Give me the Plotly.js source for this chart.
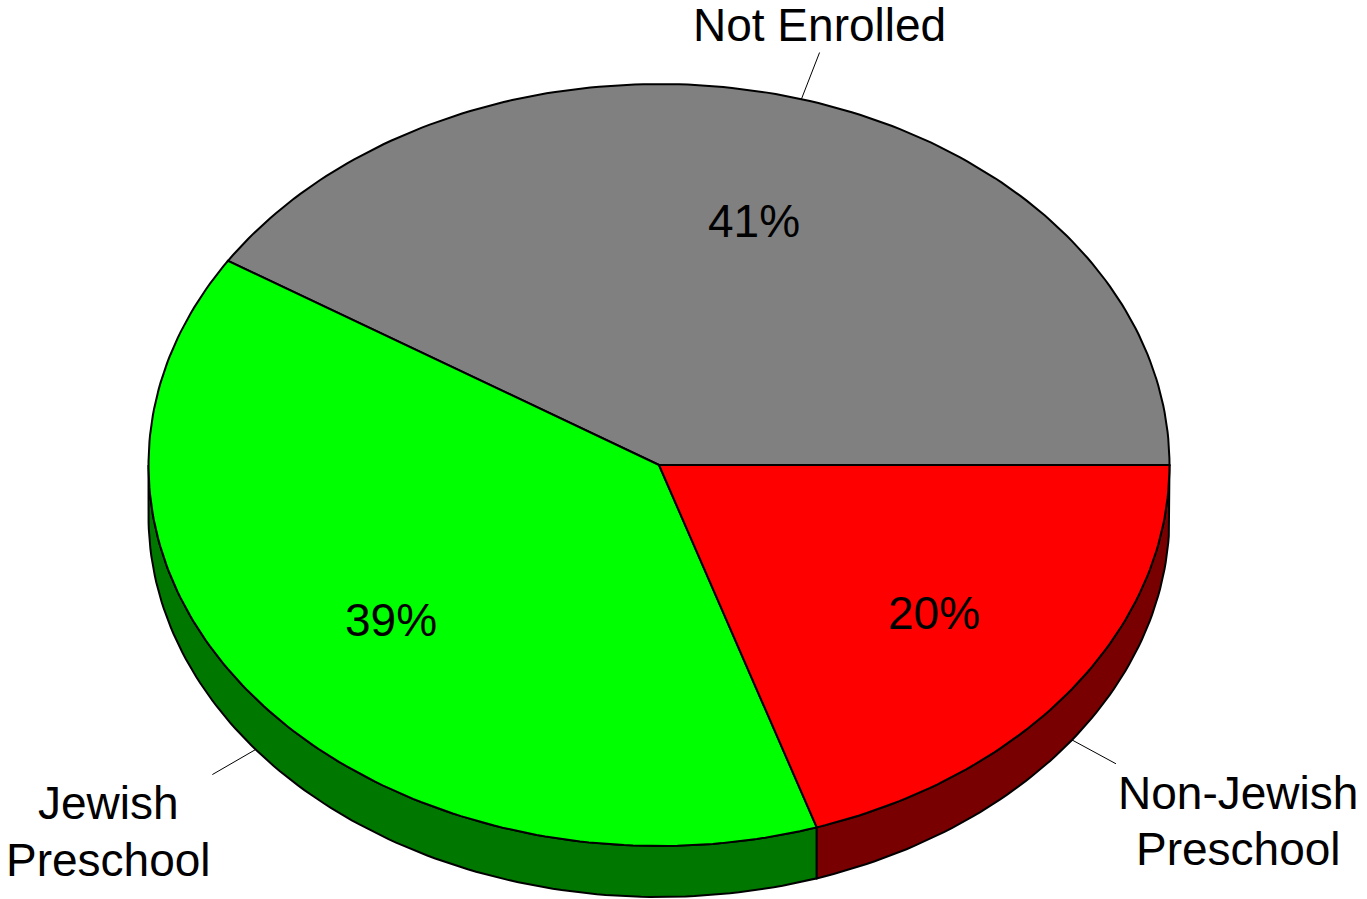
<!DOCTYPE html>
<html>
<head>
<meta charset="utf-8">
<script src="https://cdn.plot.ly/plotly-3.0.1.min.js"></script>
<style>html,body{margin:0;padding:0;background:#fff;}#chart{width:1367px;height:899px;}</style>
</head>
<body>
<div id="chart"></div>
<script>
// ---- data ----
const labels = ['Not Enrolled', 'Jewish<br>Preschool', 'Non-Jewish<br>Preschool'];
const values = [41, 39, 20];
const topColors = ['#808080', '#00ff00', '#ff0000'];
const sideColors = ['#404040', '#007800', '#780000'];

// ---- geometry (layout params) ----
const W = 1367, H = 899;
const cx = 659, cy = 465, rx = 510.5, ry = 381, depth = 51;
const FONTNAME = 'Liberation Sans';
const FONT = 'Liberation Sans, Arial, sans-serif';
const FS = 46;
const LINE_H = 56.5;
const DESC = 0.212 * FS + 1;     // box bottom below baseline
const CAP = 0.716 * FS;
const LEAD = 50;
const PCT_R = 0.665;

const canvas = document.createElement('canvas');
const ctx = canvas.getContext('2d');
ctx.font = FS + 'px "' + FONTNAME + '", Arial, sans-serif';
function textW(s) { return ctx.measureText(s).width; }

function pt(deg, dy) {
  const t = deg * Math.PI / 180;
  return [cx + rx * Math.cos(t), cy - ry * Math.sin(t) + (dy || 0)];
}
function arc(a0, a1, dy) {
  const n = Math.max(2, Math.ceil(Math.abs(a1 - a0)));
  const xs = [], ys = [];
  for (let i = 0; i <= n; i++) {
    const p = pt(a0 + (a1 - a0) * i / n, dy);
    xs.push(p[0]); ys.push(p[1]);
  }
  return [xs, ys];
}

const total = values.reduce((a, b) => a + b, 0);
const slices = [];
let acc = 0;
values.forEach((v, i) => {
  const a0 = acc / total * 360;
  acc += v;
  const a1 = acc / total * 360;
  slices.push({ a0, a1, mid: (a0 + a1) / 2, i });
});

const traces = [];
// side walls (front half only)
slices.forEach(s => {
  const lo = Math.max(s.a0, 180), hi = Math.min(s.a1, 360);
  if (hi <= lo) return;
  const top = arc(lo, hi, 0);
  const bot = arc(hi, lo, depth);
  const xs = top[0].concat(bot[0]); xs.push(top[0][0]);
  const ys = top[1].concat(bot[1]); ys.push(top[1][0]);
  traces.push({
    x: xs, y: ys, type: 'scatter', mode: 'lines', fill: 'toself',
    fillcolor: sideColors[s.i], line: { color: '#000', width: 2 },
    hoverinfo: 'skip', showlegend: false
  });
});
// top faces
slices.forEach(s => {
  const a = arc(s.a0, s.a1, 0);
  const xs = [cx].concat(a[0], [cx]);
  const ys = [cy].concat(a[1], [cy]);
  traces.push({
    x: xs, y: ys, type: 'scatter', mode: 'lines', fill: 'toself',
    fillcolor: topColors[s.i], line: { color: '#000', width: 2 },
    hoverinfo: 'skip', showlegend: false
  });
});

const annotations = [];
function textAnn(x, baseline, txt, xa) {
  annotations.push({
    x: x, y: baseline + DESC, xref: 'x', yref: 'y', text: txt,
    showarrow: false, font: { family: FONT, size: FS, color: '#000' },
    xanchor: xa || 'center', yanchor: 'bottom', borderpad: 1
  });
}

slices.forEach(s => {
  const t = s.mid * Math.PI / 180;
  const c = Math.cos(t), sn = Math.sin(t);
  // percent label (glyph centre on the mid-angle)
  const px = cx + PCT_R * rx * c, py = cy - PCT_R * ry * sn;
  textAnn(px, py + CAP / 2, Math.round(values[s.i] / total * 100) + '%');

  // leader line, radial in screen space
  const front = sn < 0;
  const p0 = pt(s.mid, front ? depth : 0);
  const vx = p0[0] - cx, vy = p0[1] - (front ? depth : 0) - cy;
  const len = Math.hypot(vx, vy);
  const p1 = [p0[0] + LEAD * vx / len, p0[1] + LEAD * vy / len];
  traces.push({
    x: [p0[0], p1[0]], y: [p0[1], p1[1]], type: 'scatter', mode: 'lines',
    line: { color: '#000', width: 1 }, hoverinfo: 'skip', showlegend: false
  });

  const lines = labels[s.i].split('<br>');
  const maxW = Math.max.apply(null, lines.map(textW));
  let tx;
  if (Math.abs(c) > 0.4) tx = c < 0 ? p1[0] - maxW / 2 - 2 : p1[0] + maxW / 2 + 2;
  else tx = p1[0];
  let b0;
  if (front) b0 = p1[1] + 46;
  else b0 = p1[1] - 10.7 - (lines.length - 1) * LINE_H;
  lines.forEach((ln, k) => textAnn(tx, b0 + k * LINE_H, ln));
});

const layout = {
  width: W, height: H,
  margin: { l: 0, r: 0, t: 0, b: 0 },
  paper_bgcolor: '#fff', plot_bgcolor: '#fff',
  xaxis: { range: [0, W], visible: false, fixedrange: true },
  yaxis: { range: [H, 0], visible: false, fixedrange: true },
  showlegend: false,
  annotations: annotations,
  hovermode: false
};
Plotly.newPlot('chart', traces, layout, { staticPlot: true, displayModeBar: false });
</script>
</body>
</html>
